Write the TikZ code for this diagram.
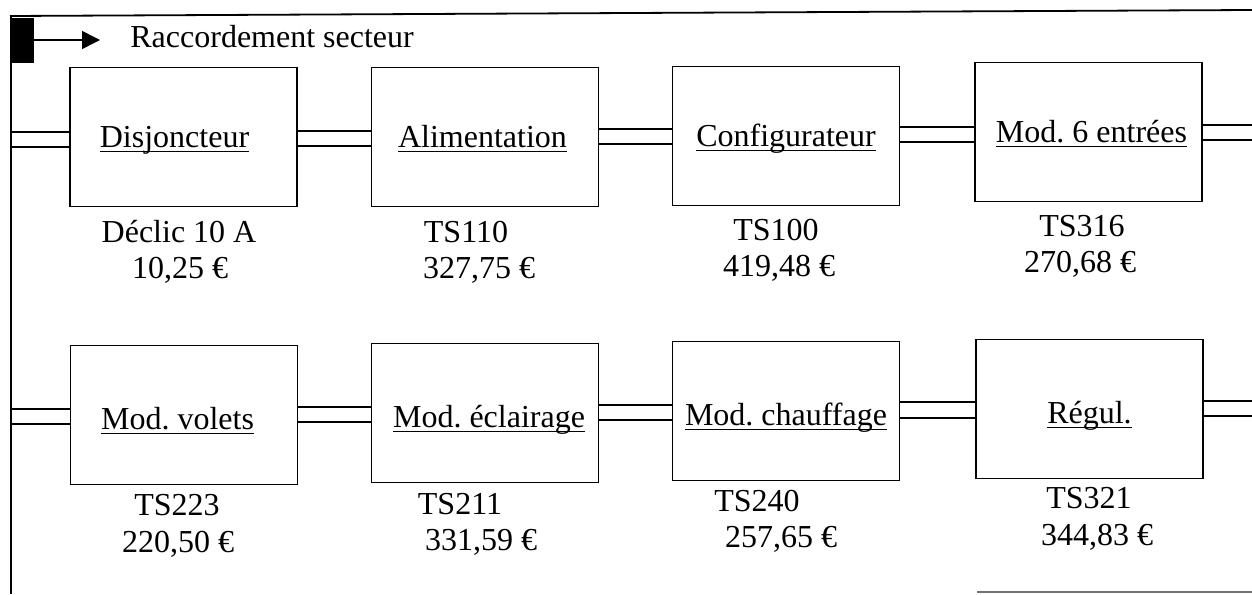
\documentclass[tikz,border=0pt]{standalone}
\usepackage{fontspec}
\setmainfont{Liberation Serif}
\usetikzlibrary{arrows.meta}
\frenchspacing
\newlength\ulwd
\newcommand\myul[1]{\settowidth\ulwd{#1}\rlap{\rule[-2.4pt]{\ulwd}{0.7pt}}#1}
\begin{document}
\begin{tikzpicture}[x=0.5pt,y=-0.5pt,
  every node/.style={font=\fontsize{16}{18}\selectfont\frenchspacing, inner sep=0pt},
  box/.style={draw, line width=0.9pt, minimum width=113.5pt, minimum height=69.5pt},
  rowa/.style={text height=13pt, text depth=2.5pt},
  rowb/.style={text height=16pt, text depth=1.5pt},
  lbl/.style={anchor=base},
  bus/.style={line width=0.8pt},
  frame/.style={line width=0.9pt}]
\useasboundingbox (0,0) rectangle (1252,594);

% frame
\coordinate (tl) at (10,16);
\coordinate (tr) at (1252,10);
\coordinate (lft) at (11,300);
\coordinate (rgt) at (1252,300);
\coordinate (bl) at (11,594);
\draw[frame] (tl) -- (tr);
\draw[frame] (11,16) -- (bl);
\coordinate (bs) at (977,592);
\coordinate (be) at (1252,592);
\draw[line width=0.8pt, black!55] (bs) -- (be);

% mains connection
\node[fill=black, minimum width=12pt, minimum height=22.5pt] (blk) at (22,40.5) {};
\coordinate (tip) at (100,40);
\draw[line width=0.8pt, -{Triangle[length=9pt,width=9pt]}] (blk.east |- tip) -- (tip);
\node[anchor=base west] (rac) at (130,47) {Raccordement secteur};

% row 1
\node[box, rowa] (b1) at (183.5,137) {\myul{Disjoncteur}\hspace*{9pt}};
\node[box, rowa] (b2) at (485,137) {\myul{Alimentation}\hspace*{2.5pt}};
\node[box, rowa] (b3) at (786,136) {\myul{Configurateur}};
\node[box, rowa] (b4) at (1088.5,132) {\hspace*{3pt}\myul{Mod. 6 entrées}};

% row 2
\node[box, rowb] (b5) at (184,415) {\myul{Mod. volets}\hspace*{6.5pt}};
\node[box, rowb] (b6) at (485,413) {\hspace*{4pt}\myul{Mod. éclairage}};
\node[box, rowb] (b7) at (786,411) {\myul{Mod. chauffage}};
\node[box, rowb] (b8) at (1089.5,409) {\myul{Régul.}};

% bus row 1
\draw[bus] (lft |- 0,132) -- (b1.west |- 0,132);
\draw[bus] (lft |- 0,147) -- (b1.west |- 0,147);
\draw[bus] (b1.east |- 0,131) -- (b2.west |- 0,131);
\draw[bus] (b1.east |- 0,146) -- (b2.west |- 0,146);
\draw[bus] (b2.east |- 0,129) -- (b3.west |- 0,129);
\draw[bus] (b2.east |- 0,144) -- (b3.west |- 0,144);
\draw[bus] (b3.east |- 0,127) -- (b4.west |- 0,127);
\draw[bus] (b3.east |- 0,142) -- (b4.west |- 0,142);
\draw[bus] (b4.east |- 0,125) -- (rgt |- 0,125);
\draw[bus] (b4.east |- 0,140) -- (rgt |- 0,140);

% bus row 2
\draw[bus] (lft |- 0,409) -- (b5.west |- 0,409);
\draw[bus] (lft |- 0,424) -- (b5.west |- 0,424);
\draw[bus] (b5.east |- 0,407) -- (b6.west |- 0,407);
\draw[bus] (b5.east |- 0,422) -- (b6.west |- 0,422);
\draw[bus] (b6.east |- 0,405) -- (b7.west |- 0,405);
\draw[bus] (b6.east |- 0,420) -- (b7.west |- 0,420);
\draw[bus] (b7.east |- 0,402) -- (b8.west |- 0,402);
\draw[bus] (b7.east |- 0,418) -- (b8.west |- 0,418);
\draw[bus] (b8.east |- 0,401) -- (rgt |- 0,401);
\draw[bus] (b8.east |- 0,416) -- (rgt |- 0,416);

% labels row 1
\node[lbl] (r1a) at (179,242) {Déclic 10 A};
\node[lbl] (p1a) at (180,278) {10,25 €};
\node[lbl] (r2a) at (466,242) {TS110};
\node[lbl] (p2a) at (479,278) {327,75 €};
\node[lbl] (r3a) at (776,240) {TS100};
\node[lbl] (p3a) at (779,276) {419,48 €};
\node[lbl] (r4a) at (1082,236) {TS316};
\node[lbl] (p4a) at (1080,272) {270,68 €};

% labels row 2
\node[lbl] (r5a) at (177,515) {TS223};
\node[lbl] (p5a) at (178,552) {220,50 €};
\node[lbl] (r6a) at (460,514) {TS211};
\node[lbl] (p6a) at (481,550) {331,59 €};
\node[lbl] (r7a) at (757,511) {TS240};
\node[lbl] (p7a) at (781,547) {257,65 €};
\node[lbl] (r8a) at (1089,508) {TS321};
\node[lbl] (p8a) at (1097,545) {344,83 €};
\end{tikzpicture}
\end{document}
